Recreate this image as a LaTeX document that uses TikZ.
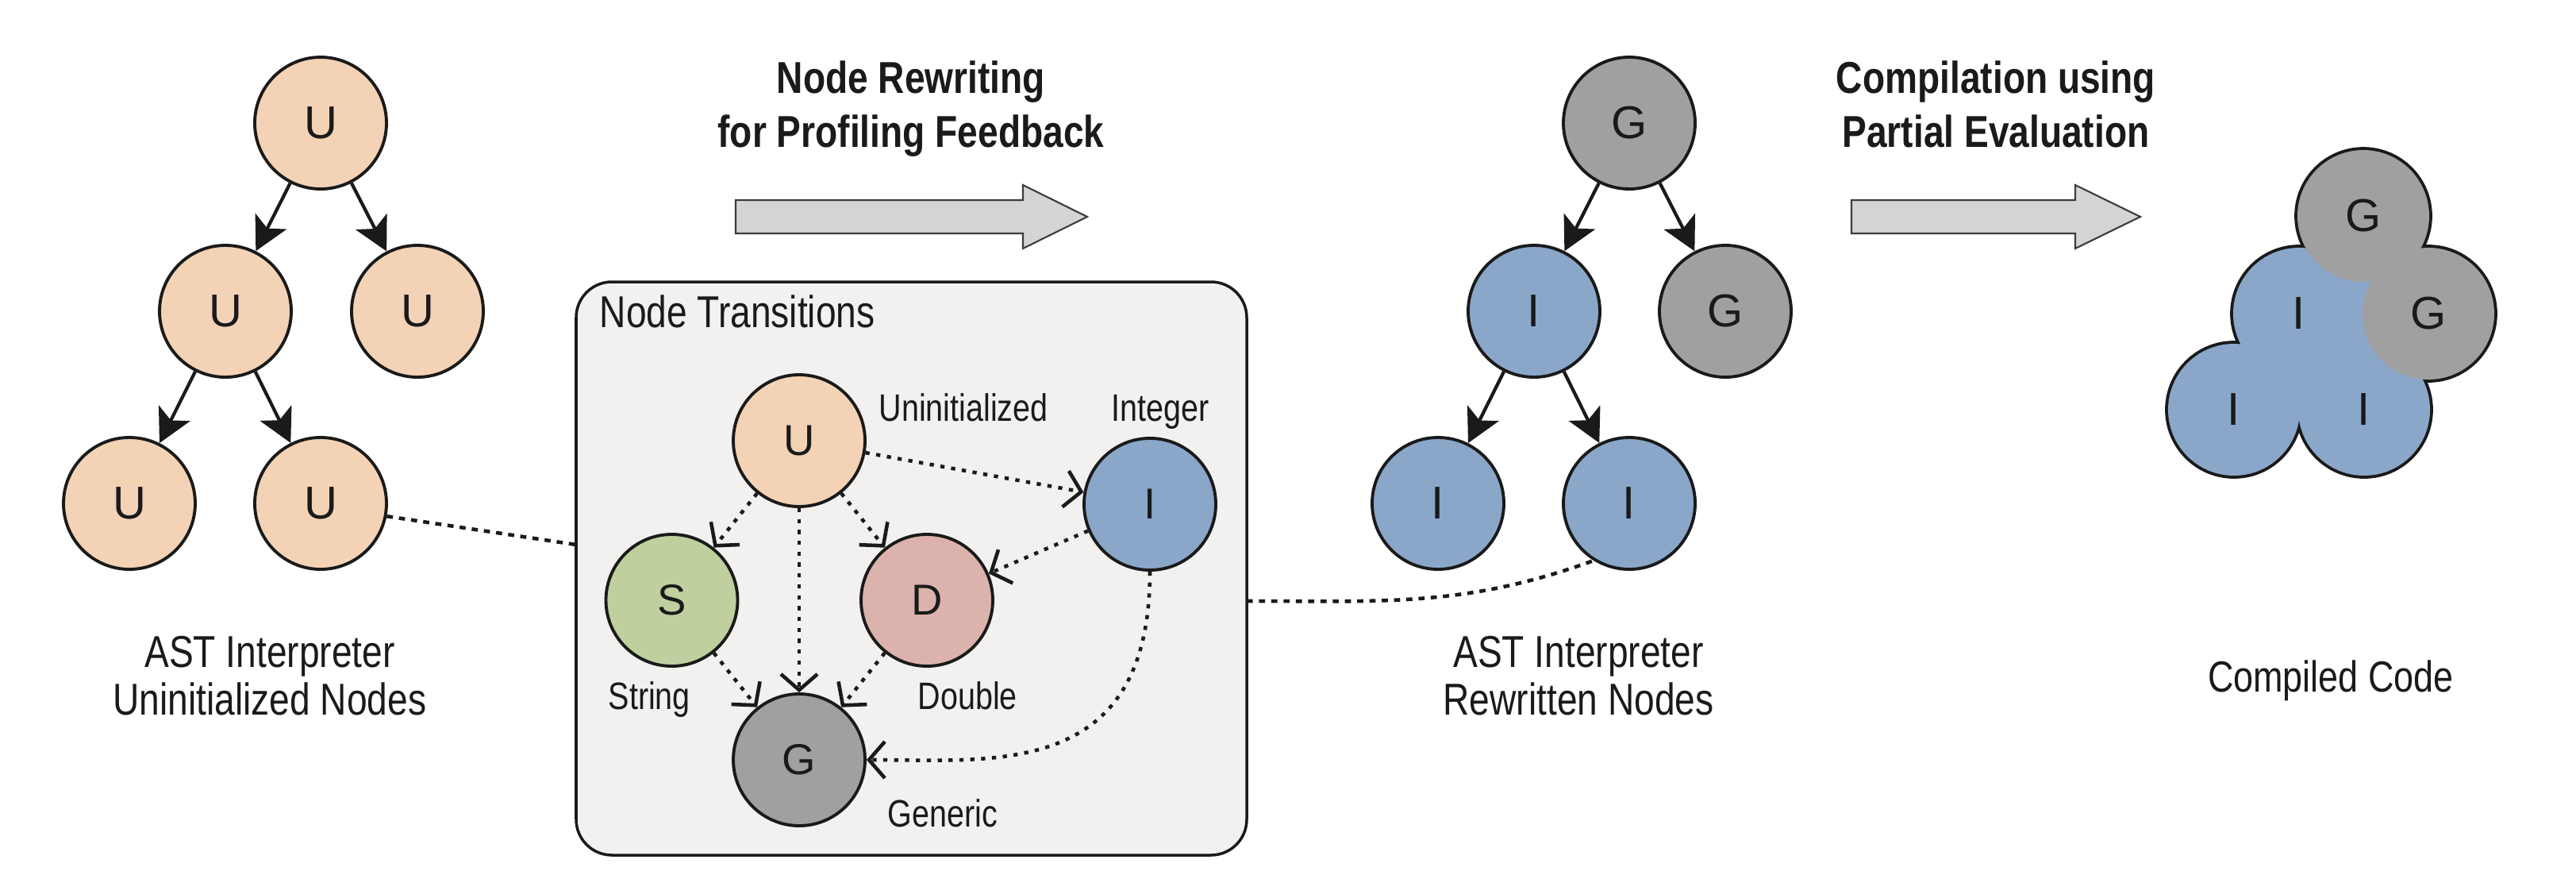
\documentclass[tikz,border=0pt]{standalone}
\usepackage{fontspec}
\setmainfont{Liberation Sans}[FakeStretch=0.82]
\newfontfamily\widefont{Liberation Sans}
\usetikzlibrary{arrows.meta,calc}
\definecolor{ink}{HTML}{1A1A1A}
\definecolor{peach}{HTML}{F3D2B6}
\definecolor{blueI}{HTML}{8AA7CA}
\definecolor{grayG}{HTML}{A0A0A0}
\definecolor{greenS}{HTML}{BFCF9E}
\definecolor{pinkD}{HTML}{DBB3AC}
\definecolor{boxfill}{HTML}{F2F1F0}
\definecolor{blockfill}{HTML}{D4D4D4}
\tikzset{
  tn/.style={circle, draw=ink, line width=1.1pt, minimum size=1.66cm, inner sep=0pt,
    text=ink, font=\widefont\fontsize{16.5}{18}\selectfont},
  uN/.style={tn, fill=peach},
  iN/.style={tn, fill=blueI},
  gN/.style={tn, fill=grayG},
  sN/.style={tn, fill=greenS},
  dN/.style={tn, fill=pinkD},
  bx/.style={font=\widefont\fontsize{15.5}{17}\selectfont},
  cN/.style={circle, draw=none, minimum size=1.66cm, inner sep=0pt, text=ink,
    font=\widefont\fontsize{16.5}{18}\selectfont},
  treearrow/.style={draw=ink, line width=1.2pt,
    -{Stealth[length=0.42cm,width=0.44cm,inset=0.1cm]}},
  trans/.style={draw=ink, line width=1.3pt, dash pattern=on 1.5pt off 2.4pt,
    -{Straight Barb[length=0.2cm,width=0.46cm]}},
  linkline/.style={draw=ink, line width=1.3pt, dash pattern=on 2.2pt off 2.2pt},
  lab/.style={text=ink, align=center, inner sep=0pt, font=\fontsize{16}{17}\selectfont},
  small/.style={text=ink, inner sep=0pt, anchor=base west, font=\fontsize{13.7}{15}\selectfont},
  ttl/.style={text=ink, align=center, inner sep=0pt, anchor=north,
    font=\bfseries\fontsize{16}{19.5}\selectfont},
  block/.style={fill=blockfill, draw=ink!85, line width=0.6pt},
}
\begin{document}
\begin{tikzpicture}
\useasboundingbox (0,0) rectangle (32.46,-10.96);
\fill[white] (0,0) rectangle (32.46,-10.96);

% ---------- left tree ----------
\node[uN] (lu1) at (4.04,-1.55) {U};
\node[uN] (lu2) at (2.84,-3.92) {U};
\node[uN] (lu3) at (5.26,-3.92) {U};
\node[uN] (lu4) at (1.63,-6.34) {U};
\node[uN] (lu5) at (4.04,-6.34) {U};
\draw[treearrow] (lu1) -- (lu2);
\draw[treearrow] (lu1) -- (lu3);
\draw[treearrow] (lu2) -- (lu4);
\draw[treearrow] (lu2) -- (lu5);
\node[lab, anchor=north] (llab) at (3.40,-8.01) {AST Interpreter\\Uninitialized Nodes};

% ---------- titles and block arrows ----------
\node[ttl] (t1) at (11.48,-0.76) {Node Rewriting\\for Profiling Feedback};
\node[ttl] (t2) at (25.15,-0.76) {Compilation using\\Partial Evaluation};
\draw[block] (9.27,-2.52) -- (12.89,-2.52) -- (12.89,-2.33) -- (13.70,-2.73)
  -- (12.89,-3.13) -- (12.89,-2.94) -- (9.27,-2.94) -- cycle;
\draw[block] (23.33,-2.52) -- (26.15,-2.52) -- (26.15,-2.33) -- (26.97,-2.73)
  -- (26.15,-3.13) -- (26.15,-2.94) -- (23.33,-2.94) -- cycle;

% ---------- node transitions box ----------
\node[draw=ink, fill=boxfill, line width=1pt, rounded corners=0.45cm,
  minimum width=8.45cm, minimum height=7.22cm, inner sep=0pt] (box) at (11.485,-7.16) {};
\node[small, font=\fontsize{16}{17}\selectfont] (boxttl) at (7.55,-4.12) {Node Transitions};
\coordinate (boxL) at (7.26,-6.86);
\coordinate (boxR) at (15.71,-7.57);

\node[uN, bx] (tU) at (10.07,-5.55) {U};
\node[iN, bx] (tI) at (14.49,-6.35) {I};
\node[sN, bx] (tS) at (8.465,-7.56) {S};
\node[dN, bx] (tD) at (11.68,-7.56) {D};
\node[gN, bx] (tG) at (10.07,-9.57) {G};

\node[small] (lUn) at (11.07,-5.30) {Uninitialized};
\node[small] (lIn) at (14.00,-5.30) {Integer};
\node[small] (lSt) at (7.66,-8.93) {String};
\node[small] (lDo) at (11.56,-8.93) {Double};
\node[small] (lGe) at (11.18,-10.41) {Generic};

\draw[trans] (tU) -- (tI);
\draw[trans] (tU) -- (tS);
\draw[trans] (tU) -- (tD);
\draw[trans] (tU) -- (tG);
\draw[trans] (tS) -- (tG);
\draw[trans] (tD) -- (tG);
\draw[trans] (tI) -- (tD);
\draw[trans] (tI.south) .. controls +(0,-2.62) and +(1.6,0) .. (tG.east);

% ---------- right tree ----------
\node[gN] (ri1) at (20.53,-1.55) {G};
\node[iN] (ri2) at (19.33,-3.92) {I};
\node[gN] (ri3) at (21.74,-3.92) {G};
\node[iN] (ri4) at (18.12,-6.34) {I};
\node[iN] (ri5) at (20.53,-6.34) {I};
\draw[treearrow] (ri1) -- (ri2);
\draw[treearrow] (ri1) -- (ri3);
\draw[treearrow] (ri2) -- (ri4);
\draw[treearrow] (ri2) -- (ri5);
\node[lab, anchor=north] (rlab) at (19.89,-8.01) {AST Interpreter\\Rewritten Nodes};

% ---------- dotted links ----------
\draw[linkline] (lu5.-11) -- (boxL);
\draw[linkline] (boxR) to[out=0,in=200] (ri5.238);

% ---------- compiled code ----------
\foreach \p in {(29.78,-2.72),(30.60,-3.95),(28.97,-3.95),(28.15,-5.16),(29.79,-5.16)}
  \draw[ink, line width=2.2pt] \p circle (0.83);
\fill[blueI] (28.97,-3.95) -- (28.15,-5.16) -- (29.79,-5.16) -- cycle;
\fill[blueI] (28.97,-3.95) -- (29.79,-5.16) -- (30.60,-3.95) -- cycle;
\fill[blueI] (28.97,-3.95) -- (29.78,-2.72) -- (30.60,-3.95) -- cycle;
\node[cN, fill=blueI] (cIm) at (28.97,-3.95) {I};
\node[cN, fill=blueI] (cI1) at (28.15,-5.16) {I};
\node[cN, fill=blueI] (cI2) at (29.79,-5.16) {I};
\node[cN, fill=grayG] (cG1) at (29.78,-2.72) {G};
\node[cN, fill=grayG] (cG2) at (30.60,-3.95) {G};
\node[text=ink, inner sep=0pt, anchor=base, font=\fontsize{15.6}{17}\selectfont] (clab) at (29.37,-8.71) {Compiled Code};
\end{tikzpicture}
\end{document}
